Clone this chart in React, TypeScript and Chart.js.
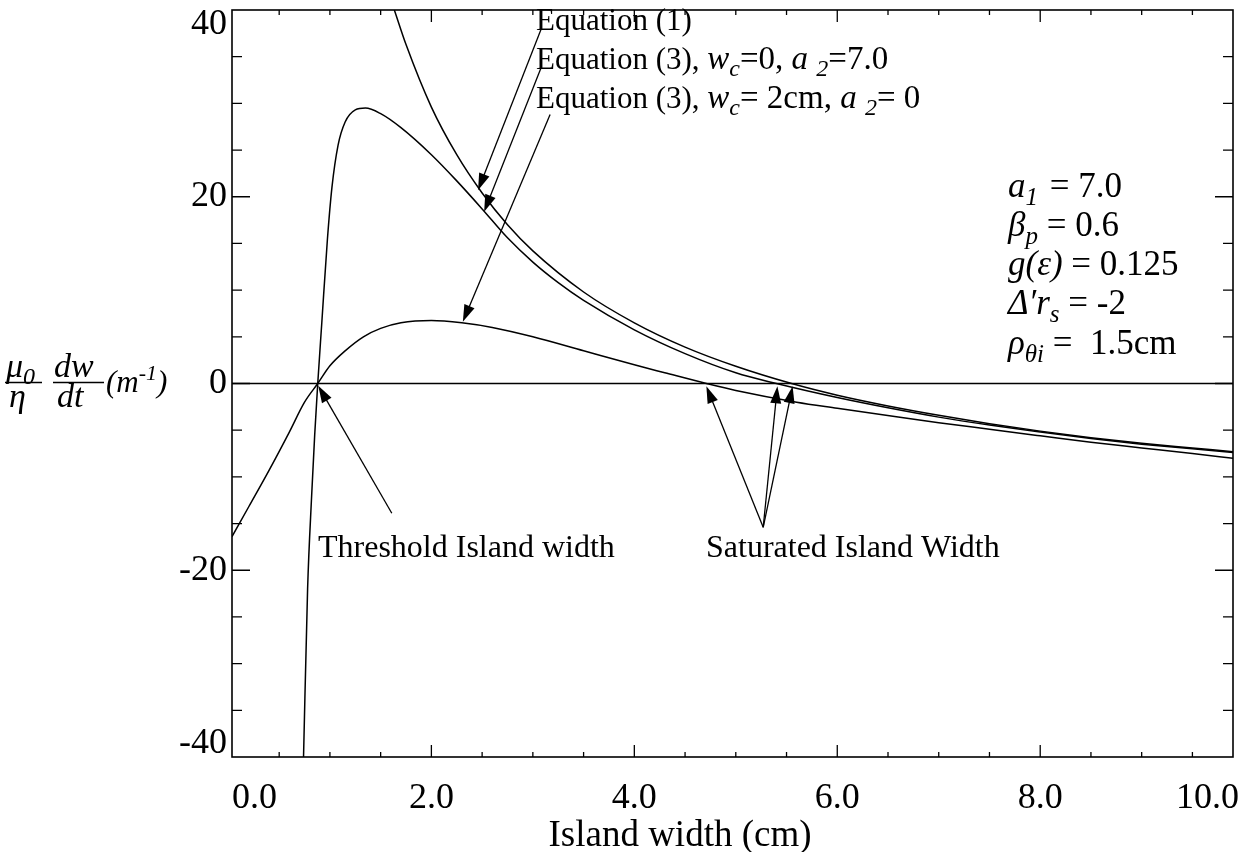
import React, { useEffect, useRef } from "react";
import { Chart, registerables } from "chart.js";

Chart.register(...registerables);

// ---- Data ----
// Equation (1)
const eq1X = [1.635, 1.75, 2.0, 2.25, 2.5, 2.75, 3.0, 3.5, 4.0, 4.5, 5.0, 5.55, 6.0, 6.5, 7.0, 7.5, 8.0, 8.5, 9.0, 9.5, 9.9];
const eq1Y = [40, 36.3, 29.6, 24.5, 20.4, 17.0, 14.2, 9.8, 6.5, 3.9, 1.85, 0, -1.25, -2.4, -3.4, -4.3, -5.1, -5.8, -6.4, -6.9, -7.3];
// Equation (3), wc = 0, a2 = 7.0
const wc0X = [0.74, 0.78, 0.82, 0.85, 0.88, 0.92, 0.975, 1.02, 1.08, 1.15, 1.25, 1.35, 1.5, 1.7, 2.0, 2.25, 2.5, 2.75, 3.0, 3.25, 3.5, 4.0, 4.5, 5.0, 5.4, 6.0, 6.5, 7.0, 7.5, 8.0, 8.5, 9.0, 9.5, 9.9];
const wc0Y = [-40, -22, -12, -5.5, 0, 6.5, 15.4, 21, 25.5, 28, 29.3, 29.5, 28.9, 27.4, 24.5, 21.7, 18.7, 15.6, 13.0, 10.8, 8.9, 5.75, 3.2, 1.15, 0, -1.5, -2.6, -3.6, -4.45, -5.2, -5.9, -6.5, -7.0, -7.4];
// Equation (3), wc = 2cm, a2 = 0
const wc2X = [0.035, 0.2, 0.4, 0.6, 0.75, 0.88, 1.0, 1.15, 1.33, 1.5, 1.7, 2.0, 2.3, 2.6, 3.0, 3.5, 4.0, 4.3, 4.71, 5.0, 5.6, 6.0, 6.6, 7.0, 7.5, 8.0, 8.5, 9.0, 9.5, 9.9];
const wc2Y = [-16.4, -13.2, -9.3, -5.2, -2.0, 0, 1.9, 3.5, 5.0, 5.9, 6.5, 6.75, 6.5, 6.0, 5.0, 3.5, 2.0, 1.15, 0, -0.75, -2.0, -2.65, -3.6, -4.2, -4.9, -5.6, -6.3, -6.9, -7.5, -8.0];

const xTickValues = [0, 2, 4, 6, 8, 10];
const xTickLabels = ["0.0", "2.0", "4.0", "6.0", "8.0", "10.0"];
const yTickValues = [-40, -20, 0, 20, 40];
const yTickLabels = ["-40", "-20", "0", "20", "40"];

const X_MIN = 0.035;
const X_MAX = 9.9;
const Y_MIN = -40;
const Y_MAX = 40;

// Annotation arrows in data coordinates: [tailX, tailY, tipX, tipY]
const arrowsData: number[][] = [
  [3.08, 37.9, 2.46, 20.7],
  [3.08, 33.8, 2.52, 18.4],
  [3.17, 28.8, 2.31, 6.6],
  [1.61, -13.9, 0.885, -0.25],
  [5.27, -15.4, 4.71, -0.3],
  [5.27, -15.4, 5.41, -0.3],
  [5.27, -15.4, 5.56, -0.3],
];

const SERIF = '"Liberation Serif", "Times New Roman", Times, serif';

type Seg = { t: string; i?: boolean; sub?: boolean; sup?: boolean; dx?: number; s?: number };

function drawRich(ctx: CanvasRenderingContext2D, x: number, y: number, segs: Seg[], size: number) {
  let cx = x;
  for (const s of segs) {
    const base = s.s || size;
    const fs = s.sub || s.sup ? Math.round(base * 0.72) : base;
    ctx.font = `${s.i ? "italic " : ""}${fs}px ${SERIF}`;
    const dy = s.sub ? size * 0.22 : s.sup ? -size * 0.36 : 0;
    ctx.fillText(s.t, cx, y + dy);
    cx += ctx.measureText(s.t).width + (s.dx || 0);
  }
  return cx;
}

function drawArrow(ctx: CanvasRenderingContext2D, x1: number, y1: number, x2: number, y2: number) {
  const a = Math.atan2(y2 - y1, x2 - x1);
  const L = 17;
  const W = 5.5;
  const c = Math.cos(a);
  const s = Math.sin(a);
  ctx.beginPath();
  ctx.moveTo(x1, y1);
  ctx.lineTo(x2 - L * 0.6 * c, y2 - L * 0.6 * s);
  ctx.lineWidth = 1.3;
  ctx.stroke();
  ctx.beginPath();
  ctx.moveTo(x2, y2);
  ctx.lineTo(x2 - L * c + W * s, y2 - L * s - W * c);
  ctx.lineTo(x2 - L * c - W * s, y2 - L * s + W * c);
  ctx.closePath();
  ctx.fill();
}

const decorPlugin = {
  id: "decor",
  afterDatasetsDraw(chart: any) {
    const ctx: CanvasRenderingContext2D = chart.ctx;
    const { left, right, top, bottom } = chart.chartArea;
    const xs = chart.scales.x;
    const ys = chart.scales.y;
    ctx.save();
    ctx.strokeStyle = "#000";
    ctx.fillStyle = "#000";

    // zero line
    const y0 = ys.getPixelForValue(0);
    ctx.lineWidth = 1.3;
    ctx.beginPath();
    ctx.moveTo(left, y0);
    ctx.lineTo(right, y0);
    ctx.stroke();

    // frame
    ctx.lineWidth = 1.6;
    ctx.strokeRect(left, top, right - left, bottom - top);

    // x ticks (inward, bottom and top)
    ctx.lineWidth = 1.3;
    for (let k = 1; k < 20; k++) {
      const v = k * 0.5;
      const px = xs.getPixelForValue(v);
      const len = k % 4 === 0 ? 12 : 5;
      ctx.beginPath();
      ctx.moveTo(px, bottom);
      ctx.lineTo(px, bottom - len);
      ctx.moveTo(px, top);
      ctx.lineTo(px, top + len);
      ctx.stroke();
    }
    // y ticks (inward, left and right)
    for (let v = -35; v <= 35; v += 5) {
      const py = ys.getPixelForValue(v);
      const len = v % 20 === 0 ? 18 : 10;
      ctx.beginPath();
      ctx.moveTo(left, py);
      ctx.lineTo(left + len, py);
      ctx.moveTo(right, py);
      ctx.lineTo(right - len, py);
      ctx.stroke();
    }

    // x tick labels
    ctx.font = `36px ${SERIF}`;
    ctx.textBaseline = "alphabetic";
    xTickValues.forEach((v, i) => {
      const px = xs.getPixelForValue(v);
      const lab = xTickLabels[i];
      const w = ctx.measureText(lab).width;
      let x = px - w / 2;
      if (x < left) x = left;
      if (x + w > right + 6) x = right + 6 - w;
      ctx.textAlign = "left";
      ctx.fillText(lab, x, 808);
    });
    // y tick labels
    ctx.textAlign = "right";
    ctx.textBaseline = "middle";
    yTickValues.forEach((v, i) => {
      let py = ys.getPixelForValue(v);
      if (py < top + 15) py = top + 15;
      if (py > bottom - 13) py = bottom - 13;
      ctx.fillText(yTickLabels[i], left - 5, py);
    });

    // x axis title
    ctx.textAlign = "center";
    ctx.textBaseline = "alphabetic";
    ctx.font = `37px ${SERIF}`;
    ctx.fillText("Island width (cm)", 680, 846);

    // y axis title: mu0/eta dw/dt (m^-1)
    ctx.textAlign = "left";
    const ym = y0;
    drawRich(ctx, 6, ym - 7, [{ t: "μ", i: true }, { t: "0", i: true, sub: true }], 34);
    ctx.lineWidth = 1.5;
    ctx.beginPath();
    ctx.moveTo(5, ym - 1);
    ctx.lineTo(42, ym - 1);
    ctx.stroke();
    drawRich(ctx, 9, ym + 23, [{ t: "η", i: true }], 34);
    drawRich(ctx, 54, ym - 7, [{ t: "dw", i: true }], 34);
    ctx.beginPath();
    ctx.moveTo(53, ym - 1);
    ctx.lineTo(104, ym - 1);
    ctx.stroke();
    drawRich(ctx, 57, ym + 23, [{ t: "dt", i: true }], 34);
    drawRich(ctx, 106, ym + 8, [{ t: "(", i: true }, { t: "m", i: true }, { t: "-1", i: true, sup: true }, { t: ")", i: true }], 31);

    // curve labels (top)
    const F = 31;
    const M = 33;
    drawRich(ctx, 536, 30, [{ t: "Equation (1)" }], F);
    drawRich(ctx, 536, 69, [
      { t: "Equation (3), " },
      { t: "w", i: true, s: M },
      { t: "c", i: true, sub: true, s: M },
      { t: "=0, ", s: M },
      { t: "a ", i: true, s: M },
      { t: "2", i: true, sub: true, s: M },
      { t: "=7.0", s: M },
    ], F);
    drawRich(ctx, 536, 108, [
      { t: "Equation (3), " },
      { t: "w", i: true, s: M },
      { t: "c", i: true, sub: true, s: M },
      { t: "= 2cm, ", s: M },
      { t: "a ", i: true, s: M },
      { t: "2", i: true, sub: true, s: M },
      { t: "= 0", s: M },
    ], F);

    // parameter block
    const PX = 1008;
    const P = 35;
    drawRich(ctx, PX, 197, [{ t: "a", i: true }, { t: "1", i: true, sub: true, dx: 3 }, { t: " = 7.0" }], P);
    drawRich(ctx, PX, 236, [{ t: "β", i: true }, { t: "p", i: true, sub: true }, { t: " = 0.6" }], P);
    drawRich(ctx, PX, 275, [{ t: "g(ε)", i: true }, { t: " = 0.125" }], P);
    drawRich(ctx, PX, 314, [{ t: "Δ′r", i: true }, { t: "s", i: true, sub: true }, { t: " = -2" }], P);
    drawRich(ctx, PX, 354, [{ t: "ρ", i: true }, { t: "θi", i: true, sub: true }, { t: " =  1.5cm" }], P);

    // bottom labels
    drawRich(ctx, 318, 557, [{ t: "Threshold Island width" }], 32);
    drawRich(ctx, 706, 557, [{ t: "Saturated Island Width" }], 32);

    // arrows
    arrowsData.forEach(([tx, ty, hx, hy]) => {
      drawArrow(ctx, xs.getPixelForValue(tx), ys.getPixelForValue(ty), xs.getPixelForValue(hx), ys.getPixelForValue(hy));
    });

    ctx.restore();
  },
};

function toPoints(xs: number[], ys: number[]) {
  return xs.map((x, i) => ({ x, y: ys[i] }));
}

export default function App() {
  const ref = useRef<HTMLCanvasElement | null>(null);
  useEffect(() => {
    document.body.style.margin = "0";
    document.body.style.background = "#fff";
    if (!ref.current) return;
    const lineStyle = {
      borderColor: "#000",
      borderWidth: 1.5,
      pointRadius: 0,
      fill: false,
      cubicInterpolationMode: "monotone" as const,
    };
    const chart = new Chart(ref.current, {
      type: "line",
      data: {
        datasets: [
          { label: "Equation (1)", data: toPoints(eq1X, eq1Y), ...lineStyle },
          { label: "Equation (3), wc=0, a2=7.0", data: toPoints(wc0X, wc0Y), ...lineStyle },
          { label: "Equation (3), wc=2cm, a2=0", data: toPoints(wc2X, wc2Y), ...lineStyle },
        ],
      },
      options: {
        responsive: false,
        animation: false,
        devicePixelRatio: 1,
        layout: { padding: { left: 232, top: 10, right: 12, bottom: 95 } },
        plugins: { legend: { display: false }, tooltip: { enabled: false } },
        events: [],
        scales: {
          x: { type: "linear", min: X_MIN, max: X_MAX, display: false },
          y: { type: "linear", min: Y_MIN, max: Y_MAX, display: false },
        },
      },
      plugins: [decorPlugin],
    });
    return () => chart.destroy();
  }, []);
  return (
    <div style={{ width: 1245, height: 852, background: "#fff" }}>
      <canvas ref={ref} width={1245} height={852} style={{ display: "block" }} />
    </div>
  );
}
